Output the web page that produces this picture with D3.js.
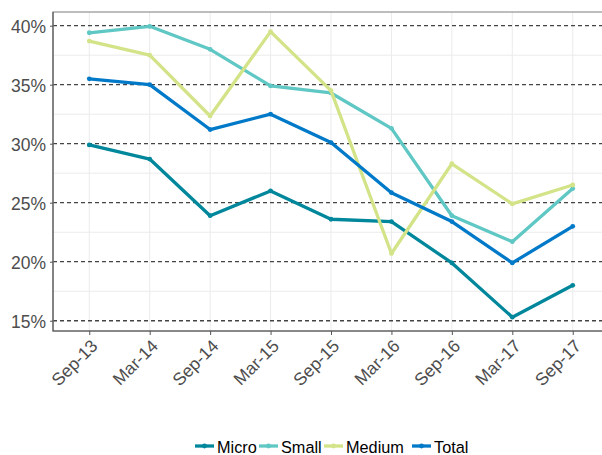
<!DOCTYPE html>
<html>
<head>
<meta charset="utf-8">
<script src="https://cdn.jsdelivr.net/npm/d3@7"></script>
<style>
  body { margin: 0; background: #fff; }
  text { font-family: "Liberation Sans", Arial, sans-serif; }
</style>
</head>
<body>
<script>
'use strict';
let periods = ["Sep-13", "Mar-14", "Sep-14", "Mar-15", "Sep-15", "Mar-16", "Sep-16", "Mar-17", "Sep-17"];
let micro  = [29.9, 28.7, 23.9, 26.0, 23.6, 23.4, 19.9, 15.3, 18.0];
let small  = [39.4, 39.95, 38.0, 34.9, 34.3, 31.3, 23.9, 21.7, 26.2];
let medium = [38.7, 37.5, 32.35, 39.5, 34.5, 20.7, 28.3, 24.9, 26.5];
let total  = [35.5, 35.0, 31.2, 32.5, 30.1, 25.85, 23.4, 19.9, 23.0];
let yTicks = [15, 20, 25, 30, 35, 40];

let series = [
	{name: "Micro", values: micro, color: "#00879c"},
	{name: "Small", values: small, color: "#5fc7c4"},
	{name: "Medium", values: medium, color: "#d3e388"},
	{name: "Total", values: total, color: "#0079c8"}
];

let W = 602, H = 455;
let pLeft = 53, pTop = 12, pBottom = 331, pRight = 609;

let svg = d3.select("body").append("svg")
	.attr("width", W)
	.attr("height", H);

let x = d3.scalePoint()
	.domain(periods)
	.range([pLeft, pRight])
	.padding(0.6);

let y = d3.scaleLinear()
	.domain([14.13, 41.16])
	.range([pBottom, pTop]);

// minor grid
let minor = d3.range(17.5, 40, 5);
svg.selectAll("line.minor")
	.data(minor)
	.enter().append("line")
		.attr("class", "minor")
		.attr("x1", pLeft).attr("x2", pRight)
		.attr("y1", d => y(d)).attr("y2", d => y(d))
		.attr("stroke", "#ebebeb")
		.attr("stroke-width", 1);

// vertical grid
svg.selectAll("line.vgrid")
	.data(periods)
	.enter().append("line")
		.attr("class", "vgrid")
		.attr("x1", d => x(d)).attr("x2", d => x(d))
		.attr("y1", pTop).attr("y2", pBottom)
		.attr("stroke", "#ebebeb")
		.attr("stroke-width", 1);

// dashed major
svg.selectAll("line.major")
	.data(yTicks)
	.enter().append("line")
		.attr("class", "major")
		.attr("x1", pLeft).attr("x2", pRight)
		.attr("y1", d => y(d)).attr("y2", d => y(d))
		.attr("stroke", "#444")
		.attr("stroke-width", 1.3)
		.attr("stroke-dasharray", "4,3");

// panel border
svg.append("rect")
	.attr("x", pLeft).attr("y", pTop)
	.attr("width", pRight - pLeft).attr("height", pBottom - pTop)
	.attr("fill", "none")
	.attr("stroke", "#888")
	.attr("stroke-width", 1.1);
svg.append("path")
	.attr("d", "M" + pLeft + "," + pTop + "V" + pBottom + "H" + pRight)
	.attr("fill", "none")
	.attr("stroke", "#555")
	.attr("stroke-width", 1.1);

// axes
let yAxis = svg.append("g")
	.attr("transform", "translate(" + pLeft + ",0)")
	.call(d3.axisLeft(y).tickValues(yTicks).tickSize(3).tickFormat(d => d + "%"));
yAxis.select(".domain").remove();
yAxis.selectAll("line").attr("stroke", "#555");
yAxis.selectAll("text")
	.attr("fill", "#4d4d4d")
	.style("font-size", "17.5px")
	.attr("x", -7)
	.attr("dy", "0.36em");

let xAxis = svg.append("g")
	.attr("transform", "translate(0," + pBottom + ")")
	.call(d3.axisBottom(x).tickSize(4));
xAxis.select(".domain").remove();
xAxis.selectAll("line").attr("stroke", "#555");
xAxis.selectAll("text")
	.attr("fill", "#4d4d4d")
	.style("font-size", "17.5px")
	.attr("text-anchor", "end")
	.attr("dy", null)
	.attr("y", 0)
	.attr("transform", "translate(9,16) rotate(-45)");

// lines
let line = d3.line()
	.x((d, i) => x(periods[i]))
	.y(d => y(d));

let g = svg.selectAll("g.series")
	.data(series)
	.enter().append("g")
		.attr("class", "series");

g.append("path")
	.attr("d", d => line(d.values))
	.attr("fill", "none")
	.attr("stroke", d => d.color)
	.attr("stroke-width", 3.3)
	.attr("stroke-linejoin", "round");

g.selectAll("circle")
	.data(d => d.values.map(v => ({v: v, color: d.color})))
	.enter().append("circle")
		.attr("cx", (d, i) => x(periods[i]))
		.attr("cy", d => y(d.v))
		.attr("r", 2.4)
		.attr("fill", d => d.color);

// legend
let legendX = [195, 259, 324, 412];
let leg = svg.selectAll("g.legend")
	.data(series)
	.enter().append("g")
		.attr("class", "legend")
		.attr("transform", (d, i) => "translate(" + legendX[i] + ",446)");

leg.append("line")
	.attr("x1", 0).attr("x2", 19)
	.attr("stroke", d => d.color)
	.attr("stroke-width", 3.3);
leg.append("circle")
	.attr("cx", 9.5).attr("r", 2.4)
	.attr("fill", d => d.color);
leg.append("text")
	.attr("x", 22)
	.attr("dy", "0.4em")
	.style("font-size", "16.3px")
	.attr("fill", "#000")
	.text(d => d.name);
</script>
</body>
</html>
